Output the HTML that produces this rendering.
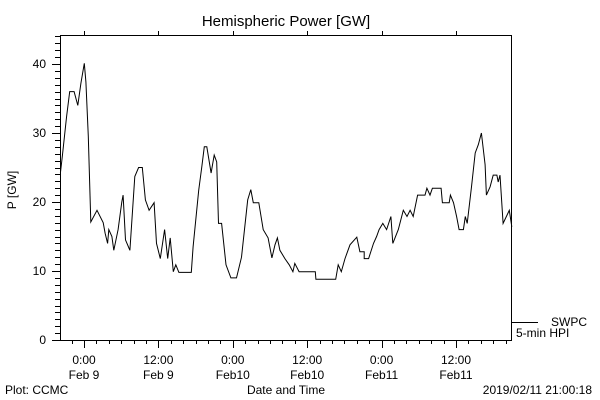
<!DOCTYPE html>
<html><head><meta charset="utf-8"><style>
body{margin:0;background:#fff;}
svg{display:block;font-family:"Liberation Sans",sans-serif;}
text{fill:#000;font-size:12px;}
</style></head><body>
<svg id="c" width="600" height="400">
<text x="286" y="26" text-anchor="middle" style="font-size:15px">Hemispheric Power [GW]</text>
<rect x="60.5" y="35.5" width="451" height="305" fill="none" stroke="#000" stroke-width="1"/>
<g id="ticks"></g>
<polyline id="series" fill="none" stroke="#000" stroke-width="1"/>
<text x="16" y="190" text-anchor="middle" transform="rotate(-90 16 190)">P [GW]</text>
<text x="286" y="394" text-anchor="middle">Date and Time</text>
<text x="5" y="394">Plot: CCMC</text>
<text x="592" y="394" text-anchor="end">2019/02/11 21:00:18</text>
<line x1="512" y1="322.5" x2="538" y2="322.5" stroke="#000"/>
<text x="551" y="326">SWPC</text>
<text x="516" y="337">5-min HPI</text>
</svg>
<script>
const hours=[-3.8,-3.5,-2.8,-2.3,-1.6,-1.0,-0.5,0.05,0.3,0.7,1.1,2.1,3.1,3.4,3.8,4,4.5,4.8,5.5,6.1,6.3,6.7,7.4,8.2,8.8,9.4,9.9,10.5,11.3,11.7,12.3,13,13.5,13.9,14.4,14.8,15.3,17.3,17.6,18.5,19,19.4,19.8,20.5,21,21.4,21.7,22.2,22.9,23.7,24.6,25.4,26.4,26.9,27.3,28.2,28.9,29.7,30.3,30.8,31.2,31.6,32.4,33.1,33.7,34.0,34.7,37.3,37.4,40.6,41,41.5,42.1,42.9,44,44.5,45.2,45.2,45.9,46.7,47.2,47.6,48.2,48.8,49.5,49.8,50.7,51.5,52.1,52.6,53.1,53.8,55,55.3,55.8,56.2,57.6,57.8,58.9,59.1,59.6,60.1,60.5,61.2,61.5,61.8,62.5,63.1,63.6,64.1,64.7,64.9,65.5,66,66.6,66.8,67.1,67.6,68.6,69];
const power=[24.2,26.6,32.4,36,36,34,37.2,40.1,37.4,29.5,17.1,18.8,17,15.5,14,16,15,13,16,20,21,14.5,13,23.7,25,25,20.3,18.8,19.9,14,11.8,16,11.8,14.8,9.9,10.9,9.8,9.8,13.5,21.7,25.1,28,28,24.2,26.8,25.8,16.9,16.9,10.9,9,9,12,20.3,21.8,19.9,19.9,16,14.8,11.9,13.8,14.8,13,11.8,10.9,9.9,11.1,9.9,9.9,8.8,8.8,10.9,9.9,11.8,13.8,14.9,12.8,12.8,11.8,11.8,14,15,16,16.9,16,17.9,14,16,18.8,17.9,18.8,17.9,21,21,22,21,22,22,19.9,19.9,21,19.9,17.9,16,16,17.9,16.9,22.2,27.1,28.3,30,25.4,21,22.2,23.9,23.9,22.9,23.9,16.9,18.8,16.4];
const yTicks=[0,10,20,30,40];
const xTickHours=[0,12,24,36,48,60];
const xTickLabels=[["0:00","Feb 9"],["12:00","Feb 9"],["0:00","Feb10"],["12:00","Feb10"],["0:00","Feb11"],["12:00","Feb11"]];
const X=h=>84+h*6.2, Y=v=>340-v*6.9;
const ns="http://www.w3.org/2000/svg";
const g=document.getElementById('ticks');
function ln(x1,y1,x2,y2,name){const l=document.createElementNS(ns,'line');l.setAttribute('x1',x1);l.setAttribute('y1',y1);l.setAttribute('x2',x2);l.setAttribute('y2',y2);l.setAttribute('stroke','#000');


g.appendChild(l);}
function tx(x,y,s,a,name){const t=document.createElementNS(ns,'text');t.setAttribute('x',x);t.setAttribute('y',y);t.setAttribute('text-anchor',a);t.textContent=s;


g.appendChild(t);}
for(let v=0;v<=44;v++){const y=Math.round(Y(v))+0.5;ln(v%10===0?52:55,y,60,y,'y-tick');}
yTicks.forEach(v=>tx(46,Y(v)+4,String(v),'end','y-tick-label'));
for(let h=-2;h<=68;h+=2){const x=Math.round(X(h))+0.5;ln(x,340,x,h%12===0?348:344,'x-tick');}
xTickHours.forEach((h,i)=>{tx(X(h),364,xTickLabels[i][0],'middle','x-tick-label');tx(X(h),379,xTickLabels[i][1],'middle','x-tick-date');ln(Math.round(X(h))+0.5,35,Math.round(X(h))+0.5,31,'x-top-tick');});
document.getElementById('series').setAttribute('points',hours.map((h,i)=>X(h).toFixed(1)+','+Y(power[i]).toFixed(1)).join(' '));
</script>
</body></html>
